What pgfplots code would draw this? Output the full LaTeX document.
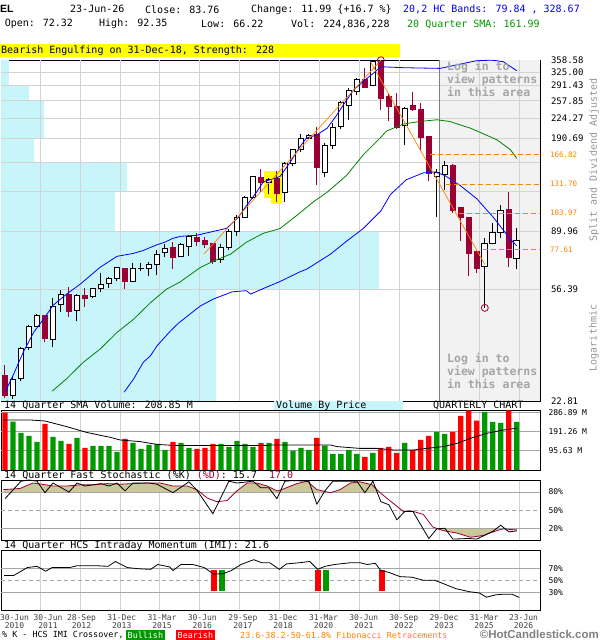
\documentclass[border=0pt]{standalone}
\usepackage{fontspec}
\setmainfont{DejaVu Sans Mono}
\newfontfamily\lsans{Liberation Sans}
\usepackage{pgfplots}
\usepackage{pgfplotstable}
\pgfplotsset{compat=1.18}

\definecolor{bearc}{RGB}{153,0,51}
\definecolor{vbpc}{RGB}{200,245,250}
\definecolor{gridc}{RGB}{211,211,211}
\definecolor{hgridc}{RGB}{165,165,165}
\definecolor{shadec}{RGB}{242,242,242}
\definecolor{fibc}{RGB}{255,128,0}
\definecolor{smac}{RGB}{0,128,0}
\definecolor{volg}{RGB}{0,153,0}
\definecolor{volr}{RGB}{255,0,0}
\definecolor{tanc}{RGB}{204,200,153}
\definecolor{loginc}{RGB}{165,165,165}
\definecolor{labc}{RGB}{150,150,150}
\definecolor{yel}{RGB}{255,255,0}

\newcommand{\fs}[1]{\fontsize{#1}{#1}\selectfont}

\pgfplotstableread{
i o h l c
0 28.0 30.6 23.4 23.8
1 23.8 28.0 23.2 27.2
2 27.4 35.2 26.7 34.9
3 35.2 42.2 34.5 41.7
4 41.8 46.0 41.4 45.6
5 45.6 45.8 36.6 37.8
6 37.4 52.3 35.2 48.9
7 49.7 55.9 46.9 53.9
8 53.9 57.2 45.0 46.9
9 47.5 54.3 43.4 53.3
10 53.6 56.7 48.8 52.4
11 53.0 57.0 52.3 56.7
12 56.6 64.4 55.1 58.4
13 58.8 62.2 57.0 61.6
14 61.6 67.6 60.1 67.0
15 66.5 67.0 56.3 59.8
16 60.1 69.4 59.5 66.5
17 66.8 69.6 65.1 66.8
18 66.5 70.3 62.6 68.5
19 68.5 77.2 63.0 74.7
20 75.6 80.8 72.8 78.1
21 78.9 82.5 66.1 73.0
22 73.2 81.8 72.8 80.6
23 79.3 87.0 73.5 86.3
24 85.6 88.4 79.7 83.0
25 83.7 85.8 78.7 81.1
26 81.3 81.9 69.2 70.3
27 71.6 81.3 69.8 78.7
28 78.7 91.2 77.4 89.6
29 89.6 102.2 86.5 100.3
30 100.8 119.9 100.0 118.3
31 118.3 140.9 116.4 139.4
32 139.4 149.1 123.6 133.2
33 133.2 138.3 121.0 136.8
34 137.3 146.4 114.2 122.0
35 122.6 156.7 114.2 155.4
36 155.4 175.1 152.0 173.7
37 173.7 197.6 170.4 189.8
38 190.6 196.9 189.3 195.3
39 195.8 209.4 130.4 151.1
40 145.0 183.9 139.7 180.5
41 179.8 215.2 175.1 207.7
42 209.4 257.4 205.5 254.2
43 247.8 286.3 221.2 279.3
44 277.7 310.4 270.7 306.0
45 306.0 335.0 286.3 287.7
46 291.6 357.0 289.5 355.0
47 355.0 357.9 238.9 262.5
48 266.2 275.5 218.2 246.2
49 246.2 274.6 206.0 207.7
50 211.1 246.2 179.8 242.0
51 249.1 277.6 238.0 239.7
52 239.7 252.9 171.2 191.6
53 193.4 193.5 135.3 143.2
54 139.7 148.7 100.8 145.0
55 142.1 158.9 125.9 153.3
56 153.3 154.2 104.3 106.6
57 108.6 108.6 83.0 100.8
58 100.3 100.3 62.6 75.1
59 76.6 76.6 64.4 66.8
60 67.9 85.1 48.4 81.7
61 81.7 96.3 80.8 88.8
62 88.8 111.5 85.4 106.3
63 107.2 123.2 67.3 72.6
64 72.32 92.35 66.22 83.76
}\ohlc

\pgfplotstableread{
i v up
0 287 0
1 242 1
2 185 1
3 170 1
4 140 1
5 230 0
6 165 1
7 145 1
8 130 0
9 160 1
10 110 0
11 120 1
12 120 1
13 120 1
14 90 1
15 155 0
16 135 1
17 105 1
18 125 1
19 130 1
20 100 1
21 140 0
22 135 1
23 110 1
24 105 0
25 110 0
26 130 0
27 130 1
28 115 1
29 145 1
30 130 1
31 115 1
32 135 0
33 135 1
34 155 0
35 140 1
36 97 1
37 110 1
38 100 1
39 160 0
40 122 1
41 80 1
42 80 1
43 100 1
44 80 1
45 65 0
46 85 1
47 110 0
48 115 0
49 85 0
50 135 1
51 100 0
52 150 0
53 170 0
54 190 1
55 180 1
56 190 0
57 270 0
58 298 0
59 247 0
60 290 1
61 240 1
62 235 1
63 298 0
64 240 1
}\vol

\pgfplotstableread{
q d
-0.2 84
1.9 86
3.5 95
4.6 93
6.0 90
7.7 90
9.4 92
11.0 92
12.8 94
14.4 93
16.0 94
17.8 95
19.4 95
21.0 90
22.8 90
24.0 84
25.3 70
26.5 64
27.8 66
29.0 82
30.3 95
31.5 95
32.8 90
34.0 82
34.4 83
36.5 94
37.8 98
39.0 84
40.7 79
41.9 84
43.2 95
44.4 97
45.3 94
45.9 92
46.9 79
48.2 65
49.8 48
51.0 48
52.3 43
53.5 22
54.8 16
56.5 12
58.2 5
59.8 8
61.5 16
62.3 19
64.0 17
}\stochD

\pgfplotstableread{
q k
0 69
2 98
3 100
4 98
5 79
6 95
8 80
9 95
10 90
12 94
13 90
14 95
15 82
16 95
18 95
19 93
21 79
23 97
24 83
26 44
28 98
29 95
31 98
32 87
33 87
34 69
35 98
36 99
38 98
39 60
40 82
41 98
43 98
44 98
45 79
46 98
47 64
48 59
49 34
50 48
51 48
53 3
54 19
55 20
56 2
58 3
59 2
61 15
62 25
63 14
64 15.7
}\stochK

\pgfplotsset{
  panel/.style={
    scale only axis, anchor=south west, width=539pt,
    xmin=-0.5, xmax=66.9,
    xtick={4.375,9.375,...,64.375}, xticklabels={},
    xmajorgrids, major grid style={gridc, line width=0.9pt},
    axis line style={line width=0.9pt},
    tick style={draw=none},
    yticklabel pos=right,
    yticklabel style={font=\fs{8}, anchor=west, xshift=5pt},
  }
}

\begin{document}
\begin{tikzpicture}

% ---------- header ----------
\node[anchor=west, inner sep=0, font=\lsans\bfseries\fs{10.5}] at (0pt,630.7pt) {EL};
\node[anchor=west, inner sep=0, font=\fs{10}] at (70pt,630.7pt) {23-Jun-26};
\node[anchor=west, inner sep=0, font=\fs{10}] at (145pt,630.7pt) {Close: 83.76};
\node[anchor=west, inner sep=0, font=\fs{10}] at (251pt,630.7pt) {Change: 11.99 \{+16.7 \%\}};
\node[anchor=west, inner sep=0, font=\fs{10}, text=blue] at (403pt,630.7pt) {20,2 HC Bands: 79.84 , 328.67};
\node[anchor=west, inner sep=0, font=\fs{10}] at (4.6pt,616pt) {Open: 72.32};
\node[anchor=west, inner sep=0, font=\fs{10}] at (99pt,616pt) {High: 92.35};
\node[anchor=west, inner sep=0, font=\fs{10}] at (201pt,616pt) {Low: 66.22};
\node[anchor=west, inner sep=0, font=\fs{10}] at (291pt,616pt) {Vol: 224,836,228};
\node[anchor=west, inner sep=0, font=\fs{10}, text=volg] at (407pt,616pt) {20 Quarter SMA: 161.99};
\fill[yel] (0pt,583pt) rectangle (400pt,596pt);
\node[anchor=west, inner sep=0, font=\fs{10}] at (1pt,589.5pt) {Bearish Engulfing on 31-Dec-18, Strength: 228};

% ---------- main price panel ----------
\begin{axis}[panel, at={(1pt,239pt)}, height=341pt,
  xmajorgrids=false,
  ymode=log, ymin=22.81, ymax=358.58,
  ytick={22.81,56.39,89.96,123.54,157.11,190.69,224.27,257.85,291.43,325.00,358.58},
  yticklabels={22.81,56.39,89.96,{},{},190.69,224.27,257.85,291.43,325.00,358.58},
  yticklabel style={font=\fs{9}, xshift=2.5pt},
  extra y ticks={77.61,103.97,131.70,166.82},
  extra y tick labels={77.61,103.97,131.70,166.82},
  extra y tick style={yticklabel style={text=fibc, font=\fs{7.5}, xshift=-1pt}},
]
% volume by price
\addplot[fill=vbpc, draw=none, forget plot] coordinates {
 (-0.5,22.81) (26.4,22.81) (26.4,56.39) (46.75,56.39) (46.75,89.96) (13.75,89.96)
 (13.75,123.54) (15.25,123.54) (15.25,157.11) (3.6,157.11) (3.6,190.69) (4.9,190.69)
 (4.9,257.85) (3.0,257.85) (3.0,291.43) (0.5,291.43) (0.5,358.58) (-0.5,358.58)} --cycle;
% log-in shaded area
\addplot[fill=shadec, draw=none, forget plot] coordinates {
 (54.375,22.81) (66.9,22.81) (66.9,358.58) (54.375,358.58)} --cycle;
% grid lines
\pgfplotsinvokeforeach{4.375,9.375,14.375,19.375,24.375,29.375,34.375,39.375,44.375,49.375,59.375,64.375}{%
  \addplot[gridc, line width=0.9pt, forget plot] coordinates {(#1,22.81) (#1,358.58)};}
\pgfplotsinvokeforeach{56.39,89.96,123.54,157.11,190.69,224.27,257.85,291.43,325.00}{%
  \addplot[gridc, line width=0.9pt, forget plot] coordinates {(-0.5,#1) (66.9,#1)};}
\addplot[draw=gray, line width=0.9pt, forget plot] coordinates {(54.375,22.81) (54.375,358.58)};
% engulfing highlight
\addplot[fill=yel, draw=none, forget plot] coordinates {(32.33,118.0) (33.5,118.0) (33.5,146.7) (32.33,146.7)} --cycle;
\addplot[fill=yel, draw=none, forget plot] coordinates {(33.3,112.4) (34.6,112.4) (34.6,146.7) (33.3,146.7)} --cycle;
% candles
\pgfplotsinvokeforeach{0,...,64}{%
  \pgfplotstablegetelem{#1}{o}\of\ohlc\let\cO\pgfplotsretval
  \pgfplotstablegetelem{#1}{h}\of\ohlc\let\cH\pgfplotsretval
  \pgfplotstablegetelem{#1}{l}\of\ohlc\let\cL\pgfplotsretval
  \pgfplotstablegetelem{#1}{c}\of\ohlc\let\cC\pgfplotsretval
  \pgfmathsetmacro\xa{#1-0.36}%
  \pgfmathsetmacro\xb{#1+0.36}%
  \pgfmathtruncatemacro\isbear{\cC<\cO ? 1 : 0}%
  \ifnum\isbear=1
    \edef\tmp{\noexpand\addplot[forget plot, draw=bearc, line width=1pt] coordinates {(#1,\cL) (#1,\cH)};
      \noexpand\addplot[forget plot, draw=bearc, fill=bearc, line width=0.8pt] coordinates {(\xa,\cO) (\xb,\cO) (\xb,\cC) (\xa,\cC)} --cycle;}%
  \else
    \edef\tmp{\noexpand\addplot[forget plot, draw=black, line width=1pt] coordinates {(#1,\cL) (#1,\cH)};
      \noexpand\addplot[forget plot, draw=black, fill=white, line width=0.9pt] coordinates {(\xa,\cO) (\xb,\cO) (\xb,\cC) (\xa,\cC)} --cycle;}%
  \fi
  \tmp
}
% 20 quarter SMA
\addplot[smac, line width=0.8pt, forget plot] coordinates {
 (5.9,24.7) (7.7,27.3) (9.8,31.2) (11.9,34.7) (14,39.7) (16.1,44.2) (18.2,50.5) (20.2,56.3)
 (21.9,59.7) (24.4,67.0) (26.1,70.7) (28.2,74.7) (30.2,82.3) (32.3,88.4) (34.4,91.9) (36.5,102.2)
 (38.6,114.2) (40.3,123.3) (42.7,141.0) (44.8,166.6) (46.9,190.8) (47.7,201.9) (49.8,213.7)
 (51.9,218.2) (54,221.2) (55.6,218.2) (58.2,206.7) (61.5,188.3) (63.2,173.7) (64,161.99)};
% lower HC band
\addplot[blue, line width=0.8pt, forget plot] coordinates {
 (14.9,24.5) (16.1,27.3) (17.3,31.2) (18.2,32.9) (19,35.6) (20.7,40.2) (21.7,42.8) (24.4,49.1)
 (26,51.9) (28.4,55.1) (30.2,55.6) (30.7,54.1) (32.5,56.9) (34.4,59.9) (36.9,64.8) (37.7,66.1)
 (40.7,74.7) (42.7,82.9) (44.8,91.9) (47,105.9) (48.2,121.0) (50.2,136.4) (52.3,144.0)
 (53.8,145.2) (55,141.0) (56.9,130.2) (59,116.8) (61.1,100.3) (63.2,84.2) (64,79.84)};
% upper HC band
\addplot[blue, line width=0.8pt, forget plot] coordinates {
 (0,24.5) (1,28.0) (2.3,33.9) (3.6,39.8) (5,44.9) (6,49.4) (7.7,54.1) (9.4,58.6) (11.9,67.2)
 (14,73.4) (16,75.1) (17.3,77.0) (19,80.6) (20,82.3) (21,84.9) (22,86.3) (24,87.0) (25,88.4)
 (27.7,92.0) (29.2,100.8) (30,108.6) (31.5,123.8) (32.3,134.0) (33.2,136.4) (34.4,140.0)
 (35.7,157.6) (36.9,178.2) (37.7,190.8) (39,195.8) (40.3,206.9) (41.5,230.0) (42.3,249.1)
 (43.6,281.6) (44.8,301.7) (46.1,322.9) (47,339.6) (49.8,336.9) (54.4,335.0) (59,356.6)
 (60.9,358.0) (62.3,353.7) (64,328.67)};
% Fibonacci retracements
\addplot[fibc, line width=0.9pt, dash pattern=on 5pt off 3pt, forget plot] coordinates {(53.2,166.82) (66.9,166.82)};
\addplot[fibc, line width=0.9pt, dash pattern=on 5pt off 3pt, forget plot] coordinates {(55.2,131.70) (66.9,131.70)};
\addplot[fibc, line width=0.9pt, dash pattern=on 5pt off 3pt, forget plot] coordinates {(56.8,103.97) (66.9,103.97)};
\addplot[fibc, line width=0.9pt, dash pattern=on 5pt off 3pt, forget plot] coordinates {(59.8,77.61) (66.9,77.61)};
\addplot[fibc, line width=0.7pt, forget plot] coordinates {(24.9,74.9) (47,357.9)};
\addplot[fibc, line width=0.7pt, forget plot] coordinates {(45.7,354) (60.0,68.7)};
% extreme markers
\addplot[only marks, mark=o, mark size=3.5pt, draw=bearc, mark options={line width=0.8pt}, forget plot] coordinates {(47,357.9) (60,48.4)};
\end{axis}

\node[anchor=north west, inner sep=0, align=left, text=loginc, font=\bfseries\fs{11.5}] at (447pt,579pt)
  {\baselineskip=15pt Log in to\\view patterns\\in this area};
\node[anchor=north west, inner sep=0, align=left, text=loginc, font=\bfseries\fs{11.5}] at (447pt,287pt)
  {\baselineskip=15pt Log in to\\view patterns\\in this area};
\node[rotate=90, text=labc, font=\fs{10}] at (594pt,480pt) {Split and Dividend Adjusted};
\node[rotate=90, text=labc, font=\fs{10}] at (594pt,302pt) {Logarithmic};

% ---------- volume panel ----------
\fill[vbpc] (274pt,229pt) rectangle (403pt,239pt);
\node[anchor=west, inner sep=0, font=\fs{10}] at (4pt,234.5pt) {14 Quarter SMA Volume: 208.85 M};
\node[anchor=west, inner sep=0, font=\fs{10}] at (276pt,234.5pt) {Volume By Price};
\node[anchor=west, inner sep=0, font=\fs{10}] at (433pt,234.5pt) {QUARTERLY CHART};
\begin{axis}[panel, at={(1pt,170pt)}, height=60pt,
  ymin=0, ymax=300,
  ytick={95.63,191.26,286.89}, yticklabels={95.63 M,191.26 M,286.89 M},
]
\addplot[hgridc, line width=0.9pt, forget plot] coordinates {(-0.5,95.63) (66.9,95.63)};
\addplot[hgridc, line width=0.9pt, forget plot] coordinates {(-0.5,191.26) (66.9,191.26)};
\addplot[hgridc, line width=0.9pt, forget plot] coordinates {(-0.5,286.89) (66.9,286.89)};
\addplot[ybar, bar width=0.66, bar shift=0pt, fill=volg, draw=none, forget plot,
  restrict expr to domain={\thisrow{up}}{0.5:1.5}] table[x=i, y=v] {\vol};
\addplot[ybar, bar width=0.66, bar shift=0pt, fill=volr, draw=none, forget plot,
  restrict expr to domain={\thisrow{up}}{-0.5:0.5}] table[x=i, y=v] {\vol};
\addplot[black, line width=0.8pt, forget plot] coordinates {
 (-0.2,250) (3.2,250) (5.0,245) (7.7,217) (10.2,188) (13.2,163) (14.4,150) (16.9,142) (19,128)
 (21.1,123) (24.4,122) (32.8,122) (33.2,125) (40.7,125) (41.5,117) (44.4,108) (46.5,108)
 (48.6,100) (51.1,100) (52.7,108) (54.8,117) (56.5,133) (58.2,158) (60.2,183) (62.3,200) (64,208.85)};
\end{axis}

% ---------- stochastic panel ----------
\node[anchor=west, inner sep=0, font=\fs{10}] at (4pt,164.5pt) {14 Quarter Fast Stochastic (\%K) \textcolor{bearc}{(\%D)}: 15.7~ \textcolor{bearc}{17.0}};
\begin{axis}[panel, at={(1pt,99.7pt)}, height=60.3pt,
  ymin=0, ymax=100,
  ytick={20,50,80}, yticklabels={20\%,50\%,80\%},
]
% overbought / oversold shading between %D and the 80 / 20 levels
\addplot[fill=tanc, draw=none, forget plot] coordinates {
 (-0.2,80) (-0.2,84) (1.9,86) (3.5,95) (4.6,93) (6.0,90) (7.7,90) (9.4,92) (11.0,92) (12.8,94)
 (14.4,93) (16.0,94) (17.8,95) (19.4,95) (21.0,90) (22.8,90) (24.0,84) (24.37,80)} --cycle;
\addplot[fill=tanc, draw=none, forget plot] coordinates {
 (28.85,80) (29.0,82) (30.3,95) (31.5,95) (32.8,90) (34.0,82) (34.4,83) (36.5,94) (37.8,98)
 (39.0,84) (40.36,80)} --cycle;
\addplot[fill=tanc, draw=none, forget plot] coordinates {
 (40.94,80) (41.9,84) (43.2,95) (44.4,97) (45.3,94) (45.9,92) (46.82,80)} --cycle;
\addplot[fill=tanc, draw=none, forget plot] coordinates {
 (53.93,20) (54.8,16) (56.5,12) (58.2,5) (59.8,8) (61.5,16) (62.3,19) (64.0,17) (64.0,20)} --cycle;
\addplot[hgridc, line width=0.9pt, forget plot] coordinates {(-0.5,80) (66.9,80)};
\addplot[hgridc, line width=0.9pt, forget plot] coordinates {(-0.5,20) (66.9,20)};
\addplot[hgridc, line width=0.9pt, dash pattern=on 4pt off 3pt, forget plot] coordinates {(-0.5,50) (66.9,50)};
\addplot[draw=bearc, line width=0.8pt, forget plot] table[x=q, y=d] {\stochD};
\addplot[black, line width=0.8pt, forget plot] table[x=q, y=k] {\stochK};
\end{axis}

% ---------- IMI panel ----------
\node[anchor=west, inner sep=0, font=\fs{10}] at (4pt,94pt) {14 Quarter HCS Intraday Momentum (IMI): 21.6};
\begin{axis}[panel, at={(1pt,29.5pt)}, height=60.5pt,
  ymin=0, ymax=100,
  ytick={30,50,70}, yticklabels={30\%,50\%,70\%},
]
\addplot[hgridc, line width=0.9pt, forget plot] coordinates {(-0.5,70) (66.9,70)};
\addplot[hgridc, line width=0.9pt, forget plot] coordinates {(-0.5,30) (66.9,30)};
\addplot[hgridc, line width=0.9pt, dash pattern=on 4pt off 3pt, forget plot] coordinates {(-0.5,50) (66.9,50)};
\addplot[fill=volr, draw=none, forget plot] coordinates {(25.74,33) (26.46,33) (26.46,67) (25.74,67)} --cycle;
\addplot[fill=volg, draw=none, forget plot] coordinates {(26.74,33) (27.46,33) (27.46,67) (26.74,67)} --cycle;
\addplot[fill=volr, draw=none, forget plot] coordinates {(38.74,33) (39.46,33) (39.46,67) (38.74,67)} --cycle;
\addplot[fill=volg, draw=none, forget plot] coordinates {(39.74,33) (40.46,33) (40.46,67) (39.74,67)} --cycle;
\addplot[fill=volr, draw=none, forget plot] coordinates {(46.74,33) (47.46,33) (47.46,67) (46.74,67)} --cycle;
\addplot[black, line width=0.8pt, forget plot] coordinates {
 (-0.1,58) (1.1,58) (2.8,71) (4.0,73) (5.1,65) (5.9,71) (8.1,71) (9.0,74) (11.4,74) (12.9,73)
 (13.8,81) (15.3,71) (16.7,69) (18.2,68) (19.1,76) (20.6,72) (21.0,66) (22.0,76) (23.5,76)
 (24.9,71) (26.1,60) (27.3,61) (28.3,66) (29.5,76) (31.1,84) (32.1,79) (33.1,79) (34.3,68)
 (35.2,77) (36.9,79) (38.1,81) (39.1,68) (40.0,73) (41.2,76) (43.2,79) (44.4,79) (45.3,76)
 (46.3,78) (47.0,66) (48.0,63) (49.4,56) (50.9,55) (52.3,50) (53.7,50) (54.7,45) (56.4,36)
 (58.1,31) (59.3,29) (60.2,22) (61.4,26) (62.4,27) (63.4,27) (64.3,21.6)};
\end{axis}

% ---------- date labels ----------
\foreach \xx/\dd/\yy in {14.5/30-Jun/2010, 48/30-Jun/2011, 81.5/28-Sep/2012, 121.7/31-Dec/2013,
  162/31-Mar/2015, 202.3/30-Jun/2016, 242.9/29-Sep/2017, 283/31-Dec/2018, 323.6/31-Mar/2020,
  363.8/30-Jun/2021, 403.8/30-Sep/2022, 444/29-Dec/2023, 484/31-Mar/2025, 523.5/23-Jun/2026}
  {\node[align=center, inner sep=0, font=\fs{8}, text=black!75] at (\xx pt,18.5pt) {\baselineskip=9pt \dd\\\yy};}

% ---------- footer ----------
\node[anchor=west, inner sep=0, font=\fs{8.4}] at (2pt,5pt) {\% K - HCS IMI Crossover,};
\node[anchor=west, fill=volg, text=white, inner sep=1.5pt, font=\fs{8.4}, minimum height=10pt] at (126pt,5pt) {Bullish};
\node[anchor=west, fill=volr, text=white, inner sep=1.5pt, font=\fs{8.4}, minimum height=10pt] at (176pt,5pt) {Bearish};
\node[anchor=west, inner sep=0, font=\fs{8.4}, text=fibc] at (240pt,5pt) {23.6-38.2-50-61.8\% Fibonacci Retracements};
\node[anchor=east, inner sep=0, font=\lsans\bfseries\fs{11.5}, text=gray] at (599pt,5.5pt) {©HotCandlestick.com};

\pgfresetboundingbox
\path[use as bounding box] (0,0) rectangle (600pt,640pt);
\end{tikzpicture}
\end{document}
